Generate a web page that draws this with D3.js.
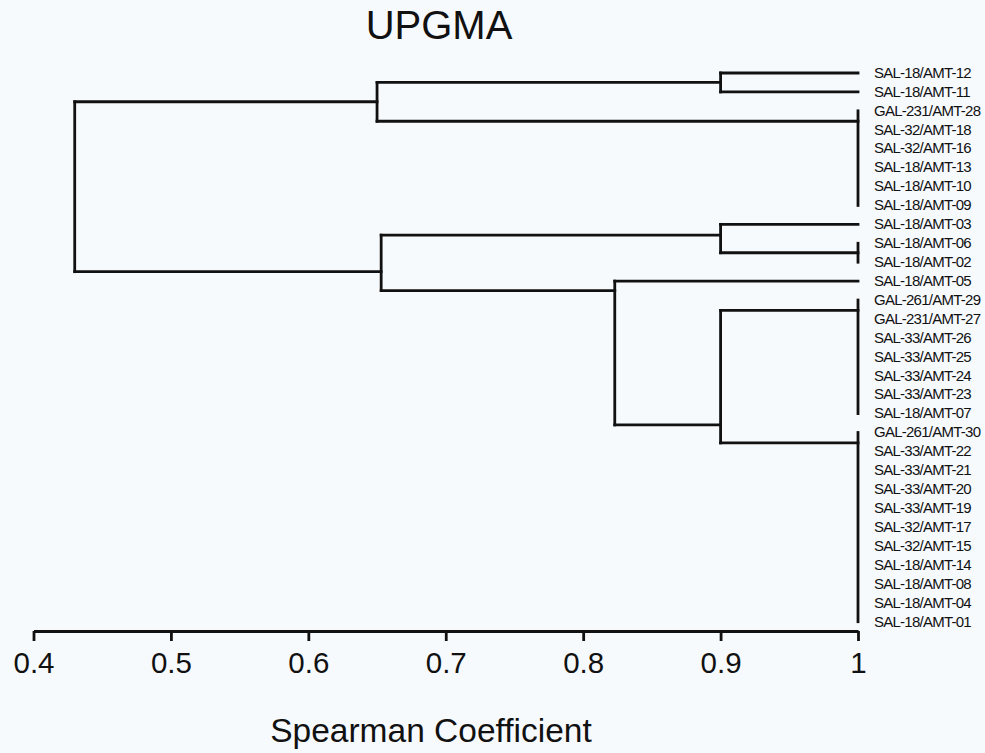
<!DOCTYPE html>
<html>
<head>
<meta charset="utf-8">
<script src="https://cdn.jsdelivr.net/npm/d3@7"></script>
<style>
  html, body { margin: 0; padding: 0; background: #f7fafd; }
  svg { display: block; }
  text { font-family: "Liberation Sans", Arial, sans-serif; fill: #111; }
</style>
</head>
<body>
<svg id="chart" width="985" height="753"></svg>
<script>
// Leaf order, top to bottom
const leafLabels = [
  "SAL-18/AMT-12", "SAL-18/AMT-11", "GAL-231/AMT-28", "SAL-32/AMT-18",
  "SAL-32/AMT-16", "SAL-18/AMT-13", "SAL-18/AMT-10", "SAL-18/AMT-09",
  "SAL-18/AMT-03", "SAL-18/AMT-06", "SAL-18/AMT-02", "SAL-18/AMT-05",
  "GAL-261/AMT-29", "GAL-231/AMT-27", "SAL-33/AMT-26", "SAL-33/AMT-25",
  "SAL-33/AMT-24", "SAL-33/AMT-23", "SAL-18/AMT-07", "GAL-261/AMT-30",
  "SAL-33/AMT-22", "SAL-33/AMT-21", "SAL-33/AMT-20", "SAL-33/AMT-19",
  "SAL-32/AMT-17", "SAL-32/AMT-15", "SAL-18/AMT-14", "SAL-18/AMT-08",
  "SAL-18/AMT-04", "SAL-18/AMT-01"
];

// Internal clusters: name, joining level (Spearman coefficient), members,
// and where the parent branch meets the cluster (in leaf-rank units)
const nodeNames  = ["A", "B", "C", "D", "E", "F", "G", "H", "I", "J", "root"];
const nodeLevels = [0.90, 1.00, 0.65, 1.00, 0.90, 1.00, 1.00, 0.90, 0.823, 0.653, 0.43];
const nodeMembers = [
  ["SAL-18/AMT-12", "SAL-18/AMT-11"],
  ["GAL-231/AMT-28", "SAL-32/AMT-18", "SAL-32/AMT-16", "SAL-18/AMT-13", "SAL-18/AMT-10", "SAL-18/AMT-09"],
  ["A", "B"],
  ["SAL-18/AMT-06", "SAL-18/AMT-02"],
  ["SAL-18/AMT-03", "D"],
  ["GAL-261/AMT-29", "GAL-231/AMT-27", "SAL-33/AMT-26", "SAL-33/AMT-25", "SAL-33/AMT-24", "SAL-33/AMT-23", "SAL-18/AMT-07"],
  ["GAL-261/AMT-30", "SAL-33/AMT-22", "SAL-33/AMT-21", "SAL-33/AMT-20", "SAL-33/AMT-19", "SAL-32/AMT-17",
   "SAL-32/AMT-15", "SAL-18/AMT-14", "SAL-18/AMT-08", "SAL-18/AMT-04", "SAL-18/AMT-01"],
  ["F", "G"],
  ["SAL-18/AMT-05", "H"],
  ["E", "I"],
  ["C", "J"]
];
const nodeAnchors = [0.5, 2.55, 1.52, 9.5, 8.57, 12.55, 19.55, 18.6, 11.5, 10.5, 5.5];

const tickValues = [0.4, 0.5, 0.6, 0.7, 0.8, 0.9, 1.0];

const titleText = "UPGMA";
const axisTitle = "Spearman Coefficient";

// ---- scales ----
const svg = d3.select("#chart");
const x = d3.scaleLinear().domain([0.4, 1.0]).range([33.5, 858]);
const y = d3.scaleLinear().domain([0, leafLabels.length - 1]).range([73, 621.7]);

// lookup: level and anchor of each member (leaf or cluster)
const info = new Map();
leafLabels.forEach((name, i) => info.set(name, { level: 1.0, pos: i }));
nodeNames.forEach((name, i) => info.set(name, { level: nodeLevels[i], pos: nodeAnchors[i] }));

const segs = [];
nodeNames.forEach((name, i) => {
  const lvl = nodeLevels[i];
  const kids = nodeMembers[i].map(m => info.get(m));
  const ps = kids.map(k => k.pos);
  segs.push({ x1: x(lvl), x2: x(lvl), y1: y(d3.min(ps)), y2: y(d3.max(ps)) });
  kids.forEach(k => {
    if (k.level > lvl) {
      segs.push({ x1: x(lvl), x2: x(k.level), y1: y(k.pos), y2: y(k.pos) });
    }
  });
});

const tree = svg.append("g")
  .attr("stroke", "#111")
  .attr("stroke-width", 2.8)
  .attr("stroke-linecap", "square");

tree.selectAll("line")
  .data(segs)
  .join("line")
  .attr("x1", d => d.x1).attr("x2", d => d.x2)
  .attr("y1", d => d.y1).attr("y2", d => d.y2);

// leaf labels
svg.append("g")
  .selectAll("text")
  .data(leafLabels)
  .join("text")
  .attr("x", 874)
  .attr("y", (d, i) => y(i))
  .attr("dy", "0.32em")
  .attr("font-size", 15)
  .attr("letter-spacing", -0.75)
  .text(d => d);

// x axis
const axis = d3.axisBottom(x)
  .tickValues(tickValues)
  .tickFormat(d3.format("~g"))
  .tickSize(10)
  .tickSizeOuter(0)
  .tickPadding(11);

const gx = svg.append("g")
  .attr("transform", "translate(0,631)")
  .call(axis);
gx.select(".domain").attr("stroke", "#111").attr("stroke-width", 2.8);
gx.selectAll(".tick line").attr("stroke", "#111").attr("stroke-width", 2.8);
gx.selectAll(".tick text")
  .attr("font-size", 29.5)
  .attr("fill", "#111")
  .style("font-family", "'Liberation Sans', Arial, sans-serif");

// titles
svg.append("text")
  .attr("x", 439).attr("y", 39)
  .attr("text-anchor", "middle")
  .attr("font-size", 40)
  .text(titleText);

svg.append("text")
  .attr("x", 431).attr("y", 742)
  .attr("text-anchor", "middle")
  .attr("font-size", 33.5)
  .text(axisTitle);
</script>
</body>
</html>
